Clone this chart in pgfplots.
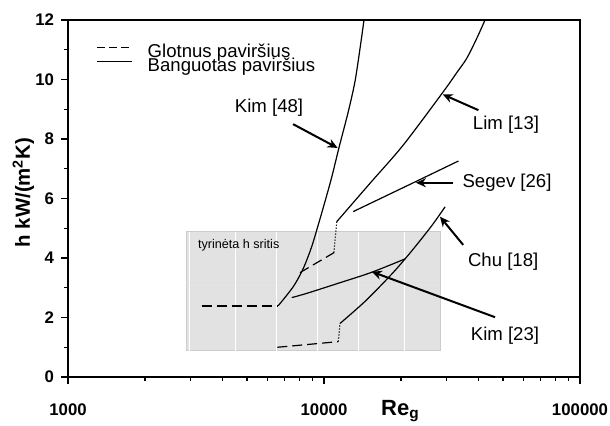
\documentclass[border=0pt]{standalone}
\usepackage{fontspec}
\setmainfont{Liberation Sans}
\usepackage{pgfplots}
\pgfplotsset{compat=1.18}
\usetikzlibrary{arrows.meta}

\definecolor{regiongray}{RGB}{226,226,226}

\tikzset{
  curve/.style={black, line width=0.6pt},
  smoothdash/.style={black, line width=0.6pt, dash pattern=on 5pt off 2.5pt},
  jump/.style={black, line width=0.6pt, dash pattern=on 0.6pt off 0.9pt},
  arr/.style={line width=1pt, -{Stealth[length=5pt,width=4.5pt]}},
  lbl/.style={font=\fontsize{9.3}{11}\selectfont},
}

\begin{document}
\begin{tikzpicture}[x=1pt,y=1pt]
\useasboundingbox (-34,-24) rectangle (271,188.5);
\begin{axis}[
  at={(0,0)}, anchor=south west,
  scale only axis, width=256pt, height=178.5pt,
  xmode=log, log basis x=10,
  xmin=1000, xmax=100000, ymin=0, ymax=12,
  xtick={1000,10000,100000}, xticklabels={1000,10000,100000},
  minor xtick={2000,3000,4000,5000,6000,7000,8000,9000,20000,30000,40000,50000,60000,70000,80000,90000},
  ytick={0,2,4,6,8,10,12}, yticklabels={0,2,4,6,8,10,12},
  minor ytick={1,3,5,7,9,11},
  tick align=outside, tick pos=left,
  major tick length=3.5pt, minor tick length=2pt,
  every tick/.style={black, line width=0.6pt},
  axis line style={line width=0.7pt},
  ticklabel style={font=\fontsize{8.4}{10}\selectfont\bfseries},
  xticklabel style={yshift=-6.5pt},
  xlabel={Re\textsubscript{g}},
  xlabel style={font=\fontsize{11}{13}\selectfont\bfseries, inner sep=0pt,
    at={(axis description cs:0.611,0)}, anchor=base west, yshift=-19pt},
  ylabel={h kW/(m\textsuperscript{2}K)},
  ylabel style={font=\fontsize{10.2}{12}\selectfont\bfseries, inner sep=0pt,
    at={(axis description cs:-0.0873,0.517)}, anchor=center},
  legend image code/.code={\draw[#1] (0pt,2.3pt) -- (17.5pt,2.3pt);},
  legend style={at={(axis description cs:0.056,0.934)}, anchor=north west,
    draw=none, fill=none, inner sep=0pt, outer sep=0pt, row sep=-1.2pt,
    font=\fontsize{9.3}{11}\selectfont,
    nodes={inner sep=0pt},
    /tikz/every odd column/.append style={column sep=7.5pt}},
  legend cell align=left,
]
% legend keys
\addlegendimage{black, line width=0.5pt, dash pattern=on 4pt off 2pt}
\addlegendentry{Glotnus paviršius}
\addlegendimage{black, line width=0.5pt}
\addlegendentry{Banguotas paviršius}

% investigated range of h
\addplot[fill=regiongray, draw=gray!40, line width=0.4pt, forget plot]
  coordinates {(2890,0.88) (28400,0.88) (28400,4.88) (2890,4.88)} -- cycle;
\addplot[gray!25, line width=0.4pt, forget plot] coordinates {(2890,3.17) (28400,3.17)};
\foreach \g in {2976,4520,6530,9410,13600,20600}{
  \edef\temp{\noexpand\addplot[white, line width=0.6pt, forget plot]
    coordinates {(\g,0.88) (\g,4.88)};}
  \temp
}
\node[lbl, font=\fontsize{6.3}{7}\selectfont, anchor=west, inner sep=0pt]
  at (axis cs:3211,4.44) {tyrinėta h sritis};

% Kim [48]
\addplot[black, line width=0.9pt, dash pattern=on 5pt off 2.5pt, forget plot]
  coordinates {(3330,2.40) (6630,2.40)};
\addplot[curve, smooth, forget plot] coordinates {
  (6630,2.40) (7590,3.04) (8300,3.65) (8950,4.38) (9500,5.12) (10090,5.90)
  (10720,6.72) (11450,7.72) (12440,8.92) (13210,9.93) (13830,11.05) (14330,12.0)};

% Lim [13]
\addplot[smoothdash, forget plot] coordinates {(8060,3.51) (10940,4.18)};
\addplot[jump, forget plot] coordinates {(10940,4.18) (11210,5.22)};
\addplot[curve, smooth, forget plot] coordinates {
  (11210,5.22) (15120,6.51) (20410,7.80) (29240,9.59) (33000,10.23)
  (36090,10.71) (39500,11.38) (42560,12.0)};

% Segev [26]
\addplot[curve, smooth, forget plot] coordinates {(13000,5.56) (22340,6.53) (33500,7.26)};

% Chu [18]
\addplot[smoothdash, smooth, forget plot] coordinates {(6570,1.00) (8810,1.10) (11370,1.19)};
\addplot[jump, forget plot] coordinates {(11370,1.19) (11550,1.80)};
\addplot[curve, smooth, forget plot] coordinates {
  (11550,1.80) (14540,2.56) (18300,3.44) (20730,3.97) (23050,4.45)
  (26480,5.11) (29720,5.72)};

% Kim [23]
\addplot[curve, smooth, forget plot] coordinates {
  (7480,2.67) (8550,2.81) (11550,3.17) (15360,3.52) (20730,3.97)};

% labels and pointers
\node[lbl] at (axis cs:6100,9.04) {Kim [48]};
\draw[arr] (axis cs:7570,8.50) -- (axis cs:11300,7.70);
\node[lbl] at (axis cs:51400,8.47) {Lim [13]};
\draw[arr] (axis cs:40090,8.97) -- (axis cs:29090,9.50);
\node[lbl] at (axis cs:51880,6.52) {Segev [26]};
\draw[arr] (axis cs:31990,6.53) -- (axis cs:22850,6.53);
\node[lbl] at (axis cs:50110,3.88) {Chu [18]};
\draw[arr] (axis cs:34970,4.44) -- (axis cs:28380,5.39);
\node[lbl] at (axis cs:50930,1.38) {Kim [23]};
\draw[arr] (axis cs:46580,2.01) -- (axis cs:15360,3.54);
\end{axis}
\end{tikzpicture}
\end{document}
